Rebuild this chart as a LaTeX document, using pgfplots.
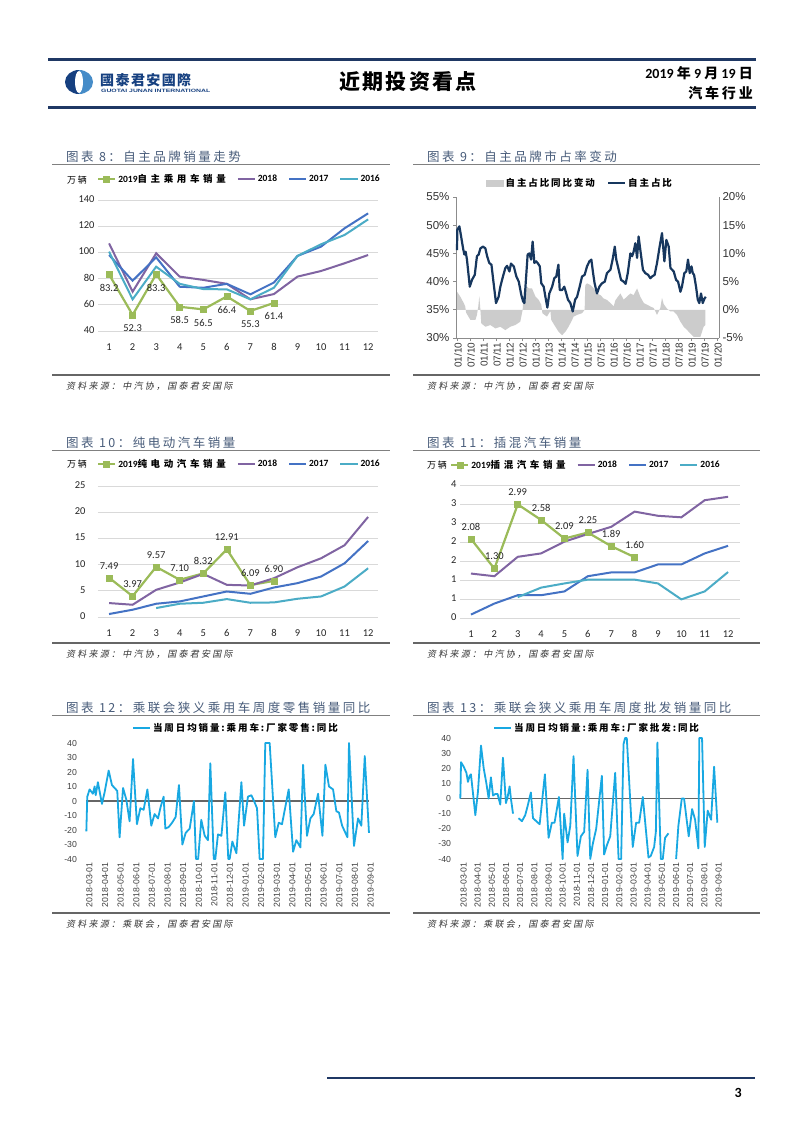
\documentclass[border=0pt]{standalone}
\usepackage{fontspec}
\usepackage{graphicx}
\usepackage{pgfplots}
\pgfplotsset{compat=1.18}
\setmainfont{Carlito}
\newfontfamily\arial{Liberation Sans}
\newfontfamily\cjk{Noto Sans CJK SC}
\newfontfamily\cjka[LetterSpace=20]{Noto Sans CJK SC}
\newfontfamily\cjkb[LetterSpace=38]{Noto Sans CJK SC}
\newfontfamily\cjkh[LetterSpace=10]{Noto Sans CJK SC}
\newfontfamily\cjks[FakeSlant=0.2,LetterSpace=25]{Noto Sans CJK SC}
\definecolor{c19}{RGB}{155,187,89}
\definecolor{c18}{RGB}{128,100,162}
\definecolor{c17}{RGB}{68,114,196}
\definecolor{c16}{RGB}{75,172,198}
\definecolor{navy}{RGB}{23,55,94}
\definecolor{ttl}{RGB}{72,92,122}
\definecolor{sky}{RGB}{24,168,226}
\definecolor{hdr}{RGB}{31,56,100}
\definecolor{logod}{RGB}{22,64,128}
\definecolor{logol}{RGB}{70,140,200}
\pgfplotsset{
  mon/.style={
    scale only axis, axis lines*=left, axis line style={draw=none}, major tick length=0pt,
    ymajorgrids, grid style={draw=black!15, line width=0.9pt},
    xtick={1,...,12}, typeset ticklabels with strut,
    tick label style={font=\fontsize{10.5}{12}\selectfont, text=black!85},
    /pgf/number format/assume math mode=true,
    legend columns=4, legend cell align=left,
    legend style={draw=none, fill=none, anchor=west, inner sep=0pt,
      font=\bfseries\fontsize{9.5}{11}\selectfont,
      /tikz/every even column/.append style={column sep=9pt}},
    clip=false,
  },
  l19/.style={color=c19, line width=2.2pt, mark=square*, mark size=3pt, mark options={solid, line width=0.5pt}},
  l18/.style={color=c18, line width=2pt},
  l17/.style={color=c17, line width=2pt},
  l16/.style={color=c16, line width=2pt},
  lab/.style={nodes near coords, point meta=explicit symbolic,
    every node near coord/.append style={font=\fontsize{10.5}{12}\selectfont, text=black!85}},
  wk/.style={
    scale only axis, axis lines*=left, axis line style={draw=none}, major tick length=0pt,
    ymin=-40, ymax=40, ytick={-40,-30,...,40}, yticklabels={-40,-30,-20,-10,0,10,20,30,40},
    xtick={0,...,18},
    xticklabels={2018-03-01,2018-04-01,2018-05-01,2018-06-01,2018-07-01,2018-08-01,2018-09-01,2018-10-01,2018-11-01,2018-12-01,2019-01-01,2019-02-01,2019-03-01,2019-04-01,2019-05-01,2019-06-01,2019-07-01,2019-08-01,2019-09-01},
    xticklabel style={rotate=90, anchor=east, yshift=-2.5pt},
    yticklabel style={xshift=-5pt},
    tick label style={font=\arial\fontsize{8.7}{10}\selectfont, text=black!75},
    legend style={draw=none, fill=none, anchor=west, inner sep=0pt, font=\bfseries\fontsize{9.5}{11}\selectfont},
    unbounded coords=jump, clip=false,
  },
}
\begin{document}
\begin{tikzpicture}
\useasboundingbox (0pt,0pt) rectangle (802pt,-1133pt);
\fill[white] (0pt,0pt) rectangle (802pt,-1133pt);
% ---------- header ----------
\draw[hdr, line width=3pt] (48pt,-59pt) -- (756pt,-59pt);
\draw[hdr, line width=3pt] (48pt,-107pt) -- (756pt,-107pt);
\fill[logod] (79pt,-70pt) arc[start angle=90, end angle=270, x radius=14pt, y radius=12pt] -- cycle;
\fill[logol] (79pt,-70pt) arc[start angle=90, end angle=-90, x radius=14pt, y radius=12pt] -- cycle;
\fill[white] (79pt,-82pt) ellipse [x radius=4pt, y radius=11pt];
\node[anchor=west, inner sep=0pt, text=logod, font=\cjkh\bfseries\fontsize{14}{15}\selectfont] at (100pt,-80pt) {國泰君安國際};
\node[anchor=west, inner sep=0pt, text=logod] at (101pt,-91pt) {\resizebox{109pt}{3.3pt}{\arial\bfseries GUOTAI JUNAN INTERNATIONAL}};
\node[font=\cjkh\bfseries\fontsize{21}{24}\selectfont] at (408pt,-82pt) {近期投资看点};
\node[anchor=east, inner sep=0pt, font=\bfseries\fontsize{14}{16}\selectfont] at (753pt,-73pt) {2019 {\cjk 年} 9 {\cjk 月} 19 {\cjk 日}};
\node[anchor=east, inner sep=0pt, font=\cjka\bfseries\fontsize{14}{16}\selectfont] at (753pt,-93pt) {汽车行业};
% ---------- titles, separators, sources ----------
\foreach \yy/\tl/\tr in {157/{图表 8：自主品牌销量走势}/{图表 9：自主品牌市占率变动},
                         443/{图表 10：纯电动汽车销量}/{图表 11：插混汽车销量},
                         708/{图表 12：乘联会狭义乘用车周度零售销量同比}/{图表 13：乘联会狭义乘用车周度批发销量同比}}{
  \node[anchor=west, inner sep=0pt, text=ttl, font=\cjka\fontsize{12.5}{14}\selectfont] at (66pt,-\yy pt) {\tl};
  \node[anchor=west, inner sep=0pt, text=ttl, font=\cjka\fontsize{12.5}{14}\selectfont] at (427pt,-\yy pt) {\tr};
  \draw[black!50, line width=0.8pt] (52pt,-\yy pt-7.5pt) -- (390pt,-\yy pt-7.5pt);
  \draw[black!50, line width=0.8pt] (413pt,-\yy pt-7.5pt) -- (760pt,-\yy pt-7.5pt);
}
\foreach \yy/\src in {375/{资料来源：中汽协，国泰君安国际}, 643/{资料来源：中汽协，国泰君安国际}, 913/{资料来源：乘联会，国泰君安国际}}{
  \draw[black!60, line width=1.2pt] (52pt,-\yy pt) -- (390pt,-\yy pt);
  \draw[black!60, line width=1.2pt] (413pt,-\yy pt) -- (760pt,-\yy pt);
  \node[anchor=west, inner sep=0pt, text=black!80, font=\cjks\fontsize{9}{10}\selectfont] at (66pt,-\yy pt-11.5pt) {\src};
  \node[anchor=west, inner sep=0pt, text=black!80, font=\cjks\fontsize{9}{10}\selectfont] at (427pt,-\yy pt-11.5pt) {\src};
}
\node[anchor=west, inner sep=0pt, font=\cjka\fontsize{9}{10}\selectfont] at (67pt,-180pt) {万辆};
\node[anchor=west, inner sep=0pt, font=\cjka\fontsize{9}{10}\selectfont] at (67pt,-464pt) {万辆};
\node[anchor=west, inner sep=0pt, font=\cjka\fontsize{9}{10}\selectfont] at (427pt,-465pt) {万辆};
% ---------- footer ----------
\draw[hdr, line width=2.5pt] (327pt,-1078pt) -- (755pt,-1078pt);
\node[anchor=east, inner sep=0pt, font=\bfseries\fontsize{14}{16}\selectfont] at (742pt,-1093pt) {3};

% ---------- chart 8 ----------
\begin{axis}[mon, at={(98pt,-331pt)}, anchor=south west, width=280pt, height=131pt,
  xmin=0.53, xmax=12.42, ymin=40, ymax=140, ytick={40,60,...,140},
  xticklabel style={yshift=-8pt},
  legend style={at={(-0.004,1.16)}}]
\addplot[l19, lab, nodes near coords align={below}, every node near coord/.append style={yshift=-6pt}] coordinates {
 (1,83.2)[83.2] (2,52.3)[52.3] (3,83.3)[83.3] (4,58.5)[58.5] (5,56.5)[56.5] (6,66.4)[66.4] (7,55.3)[55.3] (8,61.4)[61.4]};
\addlegendentry{2019{\cjkb 自主乘用车销量}}
\addplot[l18] coordinates {(1,106.9)(2,70)(3,99.3)(4,81.5)(5,79)(6,76)(7,64.2)(8,68.2)(9,81.5)(10,85.8)(11,91.7)(12,98)};
\addlegendentry{2018}
\addplot[l17] coordinates {(1,98)(2,78.4)(3,96.2)(4,73.8)(5,73)(6,76)(7,68)(8,77)(9,97.3)(10,104.4)(11,118.4)(12,129.8)};
\addlegendentry{2017}
\addplot[l16] coordinates {(1,100.6)(2,64.2)(3,89.1)(4,76)(5,72)(6,71.8)(7,64.2)(8,73)(9,97.3)(10,106.2)(11,113.3)(12,125.2)};
\addlegendentry{2016}
\end{axis}

% ---------- chart 9 ----------
\begin{axis}[scale only axis, at={(456pt,-338pt)}, anchor=south west, width=263pt, height=141pt,
  xmin=-0.46, xmax=120.9, ymin=-5, ymax=20,
  axis y line*=right, axis x line=none, major tick length=0pt,
  axis line style={draw=black!45, line width=0.8pt},
  ytick={-5,0,5,10,15,20}, yticklabels={-5\%,0\%,5\%,10\%,15\%,20\%},
  tick label style={font=\arial\fontsize{11.5}{13}\selectfont, text=black!80}]
\addplot[fill=black!20, draw=none] coordinates {
(0,0) (0,3.2) (1.5,2.35) (3.1,1.2) (3.8,0.6) (4.2,-0.5) (6.2,-1.8) (8.5,-1.8) (9.2,-0.9) (9.8,0.5) (10.3,2.4) (10.8,0)
(11.2,-2.4) (13.1,-3.0) (15.4,-2.7) (17.7,-3.3) (20.0,-3.0) (22.3,-3.6) (24.6,-3.0) (26.9,-2.7) (29.2,-2.1) (30.3,0)
(30.8,3.2) (32.3,4.1) (33.1,3.8) (34.6,3.8) (36.2,2.35) (37.7,1.75) (38.9,0.9) (39.4,-0.6) (41.5,-1.2) (43.1,-0.2)
(43.5,-1.8) (45.4,-3.0) (46.9,-3.9) (48.5,-4.5) (50.0,-3.9) (51.5,-3.0) (53.1,-1.8) (53.8,-1.2) (55.4,-0.9) (57.7,-0.6)
(58.9,0) (59.2,4.4) (60.0,4.7) (61.5,4.4) (63.1,3.8) (64.6,2.9) (66.2,2.6) (67.7,2.0) (69.2,1.75) (70.8,1.2) (72.3,0.6)
(73.1,1.7) (75.4,2.9) (76.9,1.8) (78.5,2.35) (80.0,2.9) (81.5,2.6) (83.1,3.8) (84.6,2.3) (86.2,1.2) (87.7,0.9) (89.2,0.6)
(90.8,0.3) (92.3,-0.9) (93.8,0.3) (94.6,2.1) (95.4,1.0) (96.9,0.2) (98.5,-0.3) (100.0,-0.3) (101.5,-0.9) (103.1,-2.1)
(104.6,-3.0) (106.2,-3.6) (107.7,-4.2) (109.2,-4.8) (110.8,-4.8) (112.3,-4.8) (113.8,-3.0) (114.6,-2.7) (114.6,0)} \closedcycle;
\end{axis}
\begin{axis}[scale only axis, at={(456pt,-338pt)}, anchor=south west, width=263pt, height=141pt,
  xmin=-0.46, xmax=120.9, ymin=30, ymax=55,
  axis y line*=left, axis x line*=bottom, tick align=outside, major tick length=3pt,
  axis line style={draw=black!45, line width=0.8pt}, tick style={draw=black!45, line width=0.8pt},
  ytick={30,35,...,55}, yticklabels={30\%,35\%,40\%,45\%,50\%,55\%},
  xtick={0,6,...,120},
  xticklabels={01/10,07/10,01/11,07/11,01/12,07/12,01/13,07/13,01/14,07/14,01/15,07/15,01/16,07/16,01/17,07/17,01/18,07/18,01/19,07/19,01/20},
  xticklabel style={rotate=90, anchor=east, inner sep=1.5pt, yshift=-1pt, font=\arial\fontsize{10}{11}\selectfont},
  yticklabel style={font=\arial\fontsize{11.5}{13}\selectfont},
  tick label style={text=black!80},
  legend columns=2, legend cell align=left,
  legend style={draw=none, fill=none, anchor=west, inner sep=0pt, at={(0.114,1.099)},
    font=\bfseries\fontsize{9.5}{11}\selectfont, /tikz/every even column/.append style={column sep=10pt}},
  clip=false]
\addlegendimage{area legend, fill=black!20, draw=black!20}
\addlegendentry{\cjka 自主占比同比变动}
\addplot[navy, line width=2.2pt, line join=round] coordinates {
(0,45.6) (0.15,49.2) (1.1,49.8) (1.9,48.0) (2.8,45.9) (3.4,44.8) (4.0,45.3) (4.6,43.9) (5.9,39.1) (6.9,40.3) (8.2,41.2)
(9.2,44.5) (10.0,44.8) (10.8,45.9) (12.0,46.2) (13.1,45.9) (13.9,44.5) (14.9,43.3) (15.9,43.0) (16.9,39.7) (18.0,36.2)
(19.2,37.3) (20.0,39.1) (21.2,40.9) (22.3,42.4) (23.1,42.8) (24.2,41.8) (24.9,43.2) (26.2,42.7) (27.4,40.9) (28.5,40.0)
(29.7,37.6) (30.5,36.5) (31.1,36.2) (31.8,40.3) (32.6,44.8) (33.4,45.0) (34.2,43.9) (34.9,47.1) (35.7,43.3) (36.5,43.6)
(37.4,43.2) (38.2,42.7) (38.9,39.7) (40.0,39.1) (40.8,37.3) (41.7,35.4) (42.6,37.9) (43.9,39.1) (44.9,40.6) (45.8,40.9)
(46.8,43.0) (47.4,38.5) (48.5,38.5) (49.5,39.1) (50.2,38.2) (51.2,36.8) (52.3,36.2) (53.4,34.7) (54.5,36.8) (55.4,37.3)
(56.6,39.1) (57.7,40.9) (58.9,41.2) (60.0,42.7) (61.1,43.6) (62.0,43.9) (62.8,41.5) (63.5,39.7) (64.6,37.9) (65.7,39.1)
(66.9,39.7) (68.2,40.0) (69.2,41.5) (70.8,42.1) (71.8,43.9) (72.8,46.2) (73.5,43.9) (74.6,42.1) (75.7,40.3) (76.9,40.0)
(77.8,39.6) (78.8,41.5) (80.0,45.0) (80.8,44.5) (81.5,45.3) (82.3,46.8) (83.1,44.2) (83.8,48.0) (84.6,45.6) (85.8,42.1)
(86.9,41.5) (88.2,41.2) (89.2,40.6) (90.0,40.9) (91.2,41.2) (92.3,43.3) (93.5,46.2) (94.6,48.6) (95.7,43.6) (96.6,47.4)
(97.7,46.2) (98.5,42.4) (100.0,41.8) (101.1,40.3) (102.0,40.0) (103.1,38.2) (103.8,39.1) (104.9,41.5) (105.8,41.8)
(106.6,43.9) (107.4,41.5) (108.2,42.7) (108.8,41.5) (109.4,41.2) (110.3,39.1) (111.1,36.8) (111.8,36.2) (112.6,37.9)
(113.4,36.2) (114.2,37.0) (114.8,37.3)};
\addlegendentry{\cjka 自主占比}
\end{axis}

% ---------- chart 10 ----------
\begin{axis}[mon, at={(98pt,-617pt)}, anchor=south west, width=280pt, height=131pt,
  xmin=0.53, xmax=12.42, ymin=0, ymax=25, ytick={0,5,...,25}, yticklabel style={xshift=-9pt},
  xticklabel style={yshift=-8pt},
  legend style={at={(-0.004,1.168)}}]
\addplot[l19, lab, every node near coord/.append style={yshift=5pt}] coordinates {
 (1,7.49)[7.49] (2,3.97)[3.97] (3,9.57)[9.57] (4,7.10)[7.10] (5,8.32)[8.32] (6,12.91)[12.91] (7,6.09)[6.09] (8,6.90)[6.90]};
\addlegendentry{2019{\cjkb 纯电动汽车销量}}
\addplot[l18] coordinates {(1,2.66)(2,2.34)(3,5.19)(4,6.58)(5,8.23)(6,6.14)(7,6.01)(8,7.4)(9,9.49)(10,11.2)(11,13.7)(12,19.1)};
\addlegendentry{2018}
\addplot[l17] coordinates {(1,0.57)(2,1.39)(3,2.53)(4,2.97)(5,3.92)(6,4.87)(7,4.43)(8,5.63)(9,6.46)(10,7.72)(11,10.25)(12,14.5)};
\addlegendentry{2017}
\addplot[l16] coordinates {(3,1.71)(4,2.53)(5,2.72)(6,3.42)(7,2.72)(8,2.78)(9,3.48)(10,3.92)(11,5.82)(12,9.3)};
\addlegendentry{2016}
\end{axis}

% ---------- chart 11 ----------
\begin{axis}[mon, at={(460pt,-618pt)}, anchor=south west, width=280pt, height=133pt,
  xmin=0.53, xmax=12.51, ymin=0, ymax=3.5, ytick={0,0.5,...,3.5}, yticklabels={0,1,1,2,2,3,3,4},
  xticklabel style={yshift=-7.5pt},
  legend style={at={(-0.036,1.15)}}]
\addplot[l19, lab, every node near coord/.append style={yshift=5pt}] coordinates {
 (1,2.08)[2.08] (2,1.30)[1.30] (3,2.99)[2.99] (4,2.58)[2.58] (5,2.09)[2.09] (6,2.25)[2.25] (7,1.89)[1.89] (8,1.60)[1.60]};
\addlegendentry{2019{\cjkb 插混汽车销量}}
\addplot[l18] coordinates {(1,1.17)(2,1.10)(3,1.61)(4,1.70)(5,2.01)(6,2.21)(7,2.40)(8,2.80)(9,2.69)(10,2.65)(11,3.10)(12,3.19)};
\addlegendentry{2018}
\addplot[l17] coordinates {(1,0.09)(2,0.38)(3,0.60)(4,0.60)(5,0.70)(6,1.10)(7,1.20)(8,1.20)(9,1.41)(10,1.41)(11,1.70)(12,1.90)};
\addlegendentry{2017}
\addplot[l16] coordinates {(3,0.55)(4,0.80)(5,0.91)(6,1.01)(7,1.01)(8,1.01)(9,0.91)(10,0.49)(11,0.70)(12,1.21)};
\addlegendentry{2016}
\end{axis}

% ---------- chart 12 ----------
\begin{axis}[wk, at={(85.4pt,-859pt)}, anchor=south west, width=284.2pt, height=116pt,
  xmin=-0.1, xmax=18.1, legend style={at={(0.164,1.129)}}]
\addplot[draw=black!60, line width=1.5pt, forget plot] coordinates {(-0.05,0) (18.06,0)};
\addplot[sky, line width=1.8pt, line join=round] coordinates {
(-0.04,-21) (0.02,3) (0.17,8) (0.38,5) (0.49,10) (0.56,4) (0.70,13) (0.96,-2) (1.13,6) (1.39,21) (1.60,11) (1.77,9)
(1.94,7) (2.09,-25) (2.31,9) (2.52,1) (2.73,-14) (2.95,29) (3.20,-16) (3.42,-5) (3.63,-6) (3.87,8) (4.12,-17) (4.33,-9)
(4.55,-12) (4.72,-4) (4.91,3) (5.02,-19) (5.23,-18) (5.45,-15) (5.68,-11) (5.89,11) (6.11,-30) (6.32,-22) (6.58,-19)
(6.85,0) (6.98,-40) (7.12,-40) (7.32,-13) (7.54,-24) (7.75,-27) (7.90,26) (8.12,-40) (8.22,-40) (8.39,-23) (8.61,-24)
(8.86,6) (9.05,-40) (9.14,-40) (9.31,-28) (9.57,-36) (9.89,13) (10.06,-17) (10.31,3) (10.53,4) (10.70,0) (10.89,-5)
(11.06,-40) (11.27,-40) (11.42,40) (11.70,40) (12.06,-25) (12.28,-15) (12.49,-16) (12.92,8) (13.20,-35) (13.41,-27)
(13.67,-32) (13.84,25) (14.09,-24) (14.31,-12) (14.52,-9) (14.80,5) (15.08,-24) (15.27,25) (15.50,10) (15.76,8)
(15.97,-7) (16.14,-8) (16.34,-17) (16.68,-25) (16.78,40) (17.10,-31) (17.36,-12) (17.57,-17) (17.79,31) (18.06,-22)};
\addlegendentry{\cjka 当周日均销量:乘用车:厂家零售:同比}
\end{axis}

% ---------- chart 13 ----------
\begin{axis}[wk, at={(459.6pt,-859pt)}, anchor=south west, width=259.3pt, height=121pt,
  xmin=-0.1, xmax=18.2, legend style={at={(0.129,1.083)}}]
\addplot[draw=black!60, line width=1.5pt, forget plot] coordinates {(-0.05,0) (18.06,0)};
\addplot[sky, line width=1.8pt, line join=round] coordinates {
(-0.05,0) (0,24) (0.19,21) (0.38,17) (0.49,11) (0.61,15) (0.70,16) (0.85,3) (1.01,-11) (1.20,5) (1.41,35) (1.60,20)
(1.79,10) (1.95,0) (2.11,14) (2.26,2) (2.42,3) (2.58,3) (2.77,-4) (2.96,27) (3.17,-3) (3.29,1) (3.43,8) (3.52,0)
(3.67,-10) (3.85,nan) (4.06,-13) (4.30,-15) (4.53,-11) (4.70,-5) (4.93,4) (5.08,-13) (5.31,-15) (5.55,-17) (5.92,16)
(6.18,-26) (6.41,-16) (6.60,-16) (6.91,1) (7.17,-40) (7.28,-10) (7.52,-29) (7.71,-18) (7.94,28) (8.22,-38) (8.46,-25)
(8.69,-22) (8.93,19) (9.12,-40) (9.30,-30) (9.54,-20) (9.94,15) (10.10,-37) (10.29,-31) (10.53,-25) (10.88,17)
(11.12,-40) (11.30,-40) (11.47,36) (11.58,40) (11.70,40) (12.12,-32) (12.36,-16) (12.57,-16) (12.83,1) (13.23,-39)
(13.39,-38) (13.63,-32) (13.75,-22) (13.86,37) (14.10,-40) (14.24,-40) (14.40,-26) (14.64,-23) (14.9,nan) (15.18,-40)
(15.34,-18) (15.58,0) (15.74,0) (16.07,-25) (16.31,-7) (16.52,-14) (16.75,-33) (16.82,40) (17.01,40) (17.20,-32)
(17.41,-8) (17.65,-14) (17.86,21) (18.09,-16)};
\addlegendentry{\cjka 当周日均销量:乘用车:厂家批发:同比}
\end{axis}
\end{tikzpicture}
\end{document}
